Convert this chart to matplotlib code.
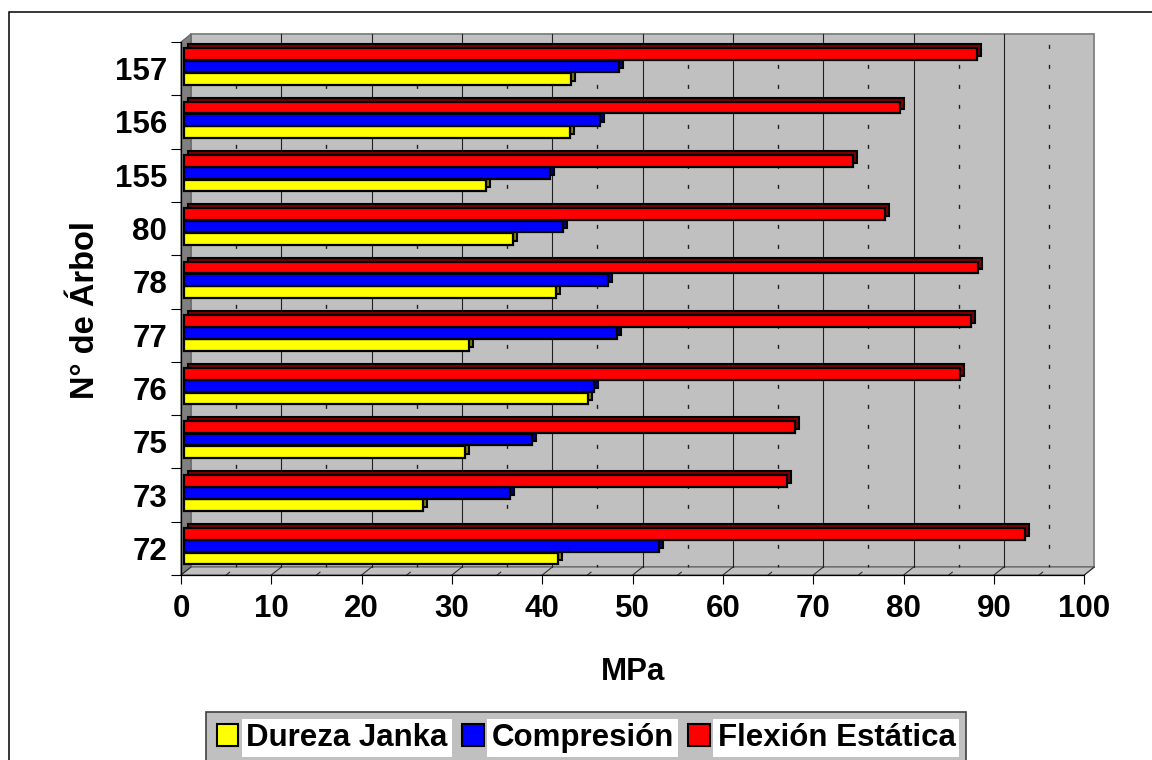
import matplotlib
matplotlib.use("Agg")
import matplotlib.pyplot as plt
import matplotlib.patches as mpatches
from matplotlib.transforms import ScaledTranslation
import numpy as np

arboles = ["72", "73", "75", "76", "77", "78", "80", "155", "156", "157"]
dureza = [41.5, 26.5, 31.2, 44.8, 31.6, 41.2, 36.5, 33.5, 42.8, 42.9]
compresion = [52.6, 36.1, 38.6, 45.4, 48.0, 47.0, 42.0, 40.6, 46.1, 48.2]
flexion = [93.2, 66.8, 67.7, 86.0, 87.2, 87.9, 77.7, 74.1, 79.3, 87.8]

series = [
    ("Dureza Janka", dureza, "#FFFF00", "#808000", -0.19),
    ("Compresión", compresion, "#0000FF", "#000080", 0.04),
    ("Flexión Estática", flexion, "#FF0000", "#800000", 0.27),
]

plt.rcParams["font.family"] = ["Liberation Sans", "DejaVu Sans"]
plt.rcParams["font.weight"] = "bold"

W, H = 1152, 760
fig = plt.figure(figsize=(W / 100, H / 100), dpi=100)
ax = fig.add_axes([181 / W, (H - 575) / H, 903.3 / W, 533 / H])
ax.set_facecolor("none")

# 3d depth of the walls in pixels
dxp, dyp = 10, 8
dx, dy = dxp / 903.3, dyp / 533
back = ax.transData + ScaledTranslation(dxp / 100, dyp / 100, fig.dpi_scale_trans)

# back wall, left wall, floor
ax.add_patch(mpatches.Rectangle((dx, dy), 1, 1, transform=ax.transAxes,
                                facecolor="#C0C0C0", edgecolor="#808080",
                                lw=1.3, clip_on=False, zorder=0))
ax.add_patch(mpatches.Polygon([(0, 0), (0, 1), (dx, 1 + dy), (dx, dy)],
                              transform=ax.transAxes, facecolor="#808080",
                              edgecolor="#606060", lw=0.8, clip_on=False, zorder=0.5))
ax.add_patch(mpatches.Polygon([(0, 0), (1, 0), (1 + dx, dy), (dx, dy)],
                              transform=ax.transAxes, facecolor="#C0C0C0",
                              edgecolor="#606060", lw=0.8, clip_on=False, zorder=0.5))

# gridlines on back wall
for v in range(10, 100, 10):
    ax.plot([v, v], [-0.5, 9.5], color="#202020", lw=0.8, transform=back,
            clip_on=False, zorder=1)
for v in range(5, 100, 10):
    ax.plot([v, v], [-0.5, 9.5], color="#202020", lw=1.0, transform=back,
            linestyle=(1, (2.9, 11.5)), clip_on=False, zorder=1)

# slanted ticks on the floor
for v in range(0, 101, 10):
    xa = v / 100
    ax.plot([xa, xa + dx], [0, dy], color="#303030", lw=0.8,
            transform=ax.transAxes, clip_on=False, zorder=1)
for v in range(5, 100, 10):
    xa = v / 100
    ax.plot([xa, xa + dx * 0.35], [0, dy * 0.35], color="#303030", lw=0.8,
            transform=ax.transAxes, clip_on=False, zorder=1)

y = np.arange(len(arboles))
h = 0.22
front = ax.transData + ScaledTranslation(2.5 / 100, 0, fig.dpi_scale_trans)
depth = ax.transData + ScaledTranslation(6.5 / 100, 4 / 100, fig.dpi_scale_trans)
z = 3
for name, vals, col, dark, off in series:
    sh = ax.barh(y + off, vals, height=h, color=dark, edgecolor="black",
                 lw=1.5, zorder=z)
    for p in sh:
        p.set_transform(depth)
        p.set_clip_on(False)
    fr = ax.barh(y + off, vals, height=h, color=col, edgecolor="black",
                 lw=1.6, zorder=z + 1)
    for p in fr:
        p.set_transform(front)
        p.set_clip_on(False)
    z += 2

ax.set_xlim(0, 100)
ax.set_ylim(-0.5, 9.5)
ax.set_xticks(range(0, 101, 10))
ax.set_yticks(y)
ax.set_yticklabels(arboles)
ax.set_yticks(np.arange(-0.5, 10, 1), minor=True)
ax.tick_params(axis="x", length=6.5, width=0.8, pad=7, labelsize=22.5)
ax.tick_params(axis="y", which="major", length=0, pad=10, labelsize=22.5)
ax.tick_params(axis="y", which="minor", length=7, width=0.8)
for s in ["top", "right"]:
    ax.spines[s].set_visible(False)
for s in ["left", "bottom"]:
    ax.spines[s].set_linewidth(0.9)
    ax.spines[s].set_zorder(10)

fig.text(633 / W, 1 - 672 / H, "MPa", ha="center", va="center",
         fontsize=22.5, fontweight="bold")
fig.text(85 / W, 1 - 310 / H, "N° de Árbol", ha="center", va="center",
         rotation=90, fontsize=23.5, fontweight="bold")

handles = [mpatches.Patch(facecolor=c, edgecolor="black", lw=1.5, label=n)
           for n, _, c, _, _ in series]
leg = fig.legend(handles=handles, loc="upper center", ncol=3,
                 bbox_to_anchor=(586 / W, 1 - 712 / H), borderaxespad=0,
                 fontsize=22.5, handlelength=0.7, handleheight=0.7,
                 handletextpad=0.25, columnspacing=0.45, borderpad=0.35,
                 fancybox=False, frameon=True)
leg.get_frame().set_facecolor("#C0C0C0")
leg.get_frame().set_edgecolor("#404040")
leg.get_frame().set_linewidth(1.2)
leg.get_frame().set_alpha(1)
for t in leg.get_texts():
    t.set_bbox(dict(facecolor="white", edgecolor="none", pad=3))

# chart area border
fig.add_artist(mpatches.Rectangle((9 / W, -0.1), 1.2, 1 - 12 / H + 0.1,
                                  transform=fig.transFigure, fill=False,
                                  edgecolor="black", lw=1.1))

fig.savefig("out.png", dpi=100)
